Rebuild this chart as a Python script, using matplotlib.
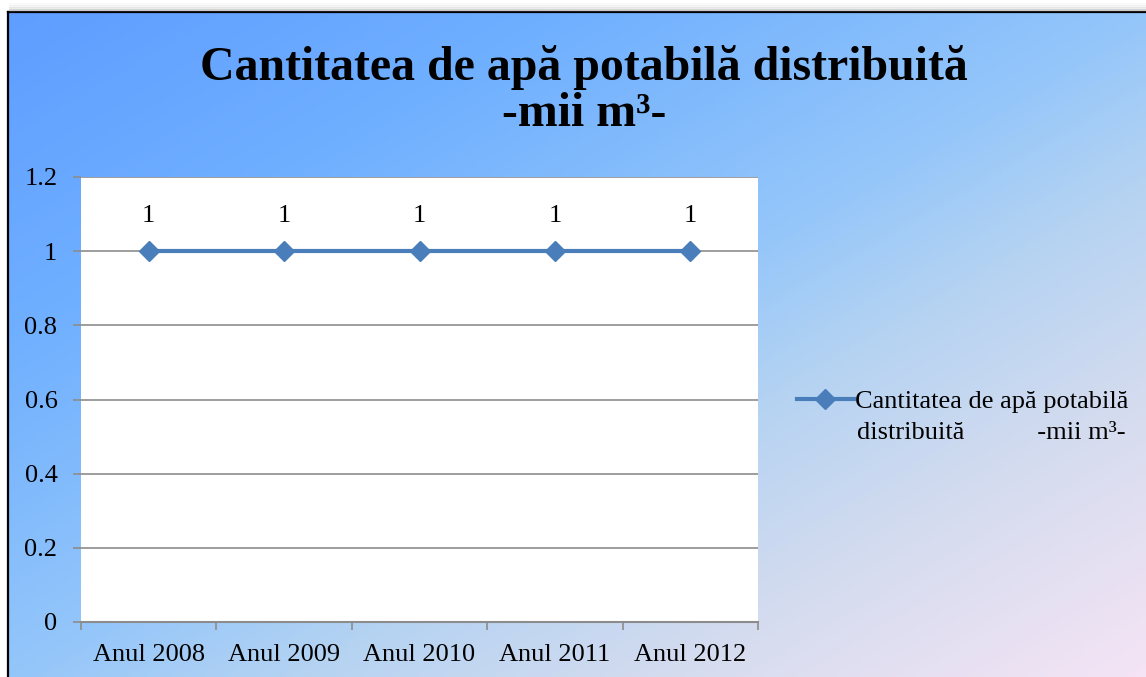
import numpy as np
import matplotlib.pyplot as plt
from matplotlib.colors import LinearSegmentedColormap
from matplotlib.ticker import FixedLocator

plt.rcParams['font.family'] = ['Liberation Serif', 'DejaVu Serif']

years = ['Anul 2008', 'Anul 2009', 'Anul 2010', 'Anul 2011', 'Anul 2012']
values = [1, 1, 1, 1, 1]
series_label = 'Cantitatea de apă potabilă'
series_label2 = 'distribuită           -mii m³-'
title_line1 = 'Cantitatea de apă potabilă distribuită'
title_line2 = '-mii m³-'

W, H = 1146, 677
fig = plt.figure(figsize=(W / 100, H / 100), dpi=100, facecolor='white')

# background panel with diagonal gradient
bg = fig.add_axes([8 / W, 0, 1 - 8 / W, 1 - 12 / H])
bg.set_xlim(0, 1)
bg.set_ylim(1, 0)
bg.axis('off')
cmap = LinearSegmentedColormap.from_list('bg', [
    (0.0, '#5f9dff'), (0.25, '#70b0ff'), (0.5, '#94c6fa'),
    (0.63, '#b5d3f2'), (0.8, '#d6dcef'), (1.0, '#f4e4f5')])
gx, gy = np.meshgrid(np.linspace(0, 1, 300), np.linspace(0, 1, 200))
bg.imshow((gx + gy) / 2, cmap=cmap, extent=[0, 1, 1, 0], aspect='auto', vmin=0, vmax=1)
bg.plot([0, 0], [1, 0], color='black', lw=1.6, clip_on=False)
bg.plot([0, 1], [0, 0], color='black', lw=1.6, clip_on=False)

# soft shadow above the frame
for i, a in enumerate([0.25, 0.15, 0.08, 0.04]):
    fig.add_artist(plt.Line2D([10 / W, 1], [1 - (10 - 2 * i) / H] * 2,
                              color='gray', alpha=a, lw=2))

ax = fig.add_axes([81 / W, 1 - 622 / H, (758 - 81) / W, (622 - 177) / H])
ax.set_facecolor('white')
x = np.arange(len(years))
ax.plot(x, values, color='#4a7ebb', lw=3, marker='D', markersize=10,
        markerfacecolor='#4a7ebb', markeredgecolor='#4a7ebb', label=series_label, zorder=3)
for xi, v in zip(x, values):
    ax.annotate(f'{v}', (xi, v), xytext=(0, 25), textcoords='offset points',
                ha='center', va='center', fontsize=19)

ax.set_xlim(-0.5, len(years) - 0.5)
ax.set_ylim(0, 1.2)
ax.set_yticks(np.arange(0, 1.21, 0.2))
ax.set_yticklabels(['0', '0.2', '0.4', '0.6', '0.8', '1', '1.2'], fontsize=19)
ax.yaxis.grid(True, color='#8c8c8c', lw=1.2)
ax.set_xticks(x)
ax.set_xticklabels(years, fontsize=19)
ax.xaxis.set_minor_locator(FixedLocator(np.arange(-0.5, len(years), 1.0)))
ax.tick_params(axis='x', which='major', length=0, pad=16)
ax.tick_params(axis='x', which='minor', length=6, color='#8c8c8c', width=1.2)
ax.tick_params(axis='y', length=6, color='#8c8c8c', width=1.2, pad=11)
for s in ['top', 'right', 'left']:
    ax.spines[s].set_visible(False)
ax.spines['bottom'].set_color('#8c8c8c')
ax.spines['bottom'].set_linewidth(1.5)

fig.text(584 / W, 1 - 80 / H, title_line1, ha='center', va='baseline',
         fontsize=34.5, fontweight='bold')
fig.text(584 / W, 1 - 126 / H, title_line2, ha='center', va='baseline',
         fontsize=34.5, fontweight='bold')

leg = ax.legend(loc='center left', bbox_to_anchor=(797 / W, 1 - 401 / H),
                bbox_transform=fig.transFigure, frameon=False, fontsize=19,
                handlelength=2.15, handletextpad=0.05, borderaxespad=0, borderpad=0)
fig.text(857 / W, 1 - 433 / H, series_label2, ha='left', va='center', fontsize=19)

fig.savefig('out.png', dpi=100)
